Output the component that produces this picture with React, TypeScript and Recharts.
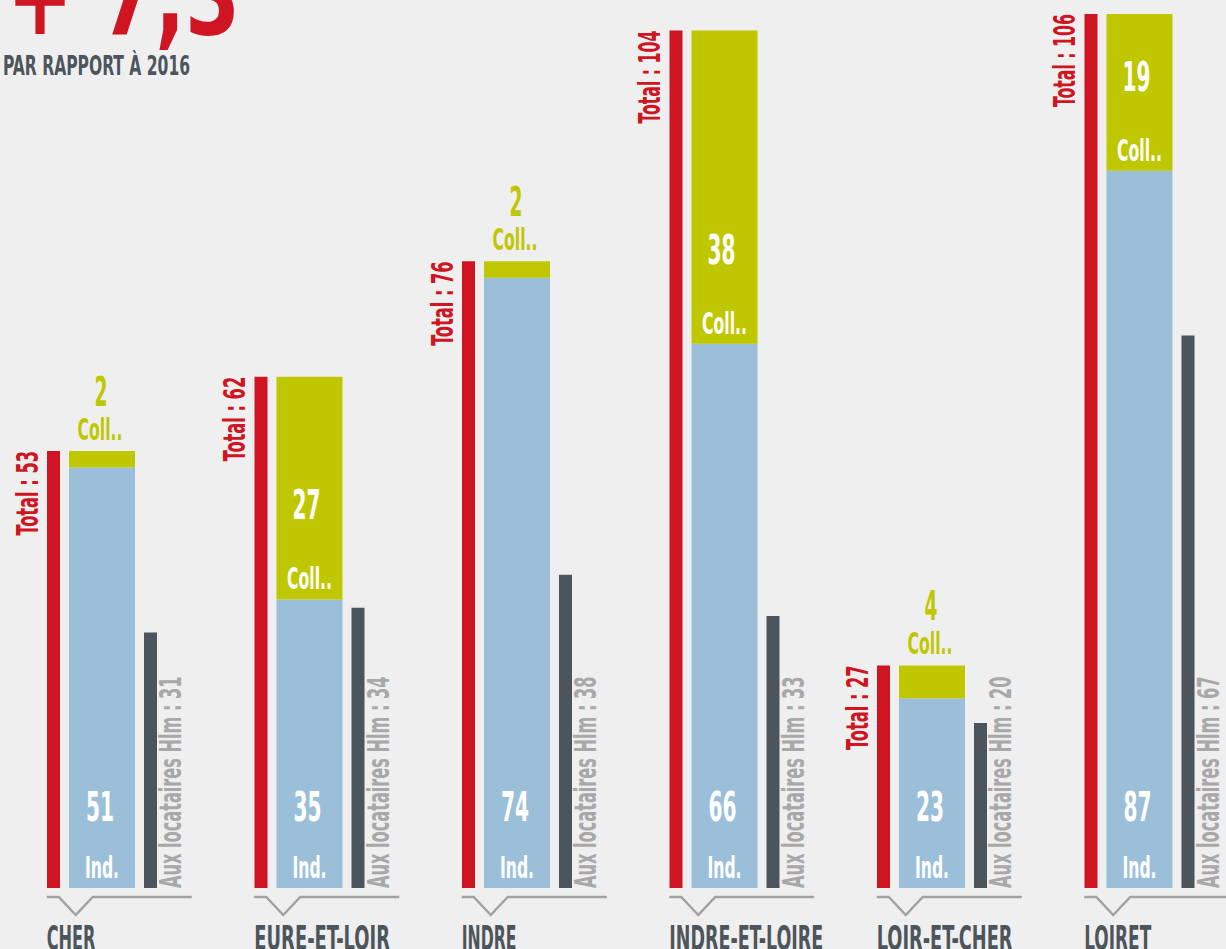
import React from 'react';
import { ComposedChart, Bar, XAxis, YAxis, LabelList } from 'recharts';

const categories = ['CHER', 'EURE-ET-LOIR', 'INDRE', 'INDRE-ET-LOIRE', 'LOIR-ET-CHER', 'LOIRET'];
const totals = [53, 62, 76, 104, 27, 106];
const individuels = [51, 35, 74, 66, 23, 87];
const collectifs = [2, 27, 2, 38, 4, 19];
const locatairesHlm = [31, 34, 38, 33, 20, 67];

const titleValue = '+ 7,3';
const subtitle = 'PAR RAPPORT À 2016';

const data = categories.map((name, i) => ({
  name,
  total: totals[i],
  ind: individuels[i],
  coll: collectifs[i],
  hlm: locatairesHlm[i],
}));

const FONT = "'Liberation Sans Narrow', 'DejaVu Sans Condensed', 'Roboto Condensed', 'Arial Narrow', sans-serif";
const RED = '#cf1522';
const BLUE = '#9bbfd9';
const GREEN = '#bfc700';
const DARK = '#4c545c';
const LIGHT = '#a8a8a8';
const TEXT = '#4d555c';
const BG = '#efefef';
const LINE = '#a2a2a2';

const rect = (p: any) => {
  const vb = p.viewBox || {};
  const x = Number(p.x ?? vb.x);
  const y = Number(p.y ?? vb.y);
  const width = Number(p.width ?? vb.width);
  const height = Number(p.height ?? vb.height);
  return { x, y, width, height };
};

const Squeezed = ({ x, y, len, size, fill, anchor = 'middle', rotate = false, children }: any) => {
  const startX = anchor === 'middle' ? x - len / 2 : x;
  const tr = rotate ? `rotate(-90 ${x} ${y})` : undefined;
  return (
    <text
      x={rotate ? x : startX}
      y={y}
      transform={tr}
      fontFamily={FONT}
      fontWeight="bold"
      fontSize={size}
      fill={fill}
      textLength={len}
      lengthAdjust="spacingAndGlyphs"
    >
      {children}
    </text>
  );
};

const numLen = (s: string) => s.length * 14;

const RedLabel = (p: any) => {
  const { x, y } = rect(p);
  const t = `Total : ${p.value}`;
  const len = t.length * 8.45;
  const bx = x - 9;
  return <Squeezed x={bx} y={y + len} len={len} size={30} fill={RED} anchor="start" rotate>{t}</Squeezed>;
};

const GrayLabel = (p: any) => {
  const { x, y, width, height } = rect(p);
  const t = `Aux locataires Hlm : ${p.value}`;
  const len = t.length * 9.2;
  const bx = x + width + 24;
  return <Squeezed x={bx} y={y + height} len={len} size={31} fill={LIGHT} anchor="start" rotate>{t}</Squeezed>;
};

const BlueLabel = (p: any) => {
  const { x, y, width, height } = rect(p);
  const cx = x + width / 2;
  const bottom = y + height;
  const s = String(p.value);
  return (
    <g>
      <Squeezed x={cx - 2} y={bottom - 67} len={numLen(s)} size={40} fill="#ffffff">{s}</Squeezed>
      <Squeezed x={cx} y={bottom - 10} len={34} size={30} fill="#ffffff">Ind.</Squeezed>
    </g>
  );
};

const GreenLabel = (p: any) => {
  const { x, y, width, height } = rect(p);
  const cx = x + width / 2;
  const s = String(p.value);
  if (Number(p.value) < 10) {
    return (
      <g>
        <Squeezed x={cx - 1} y={y - 45} len={numLen(s) - 1} size={40} fill={GREEN}>{s}</Squeezed>
        <Squeezed x={cx - 2} y={y - 11} len={45} size={31} fill={GREEN}>Coll..</Squeezed>
      </g>
    );
  }
  const bottom = y + height;
  return (
    <g>
      <Squeezed x={cx - 3} y={bottom - 80} len={numLen(s)} size={40} fill="#ffffff">{s}</Squeezed>
      <Squeezed x={cx} y={bottom - 10} len={45} size={31} fill="#ffffff">Coll..</Squeezed>
    </g>
  );
};

const charW = (c: string) => (c === 'I' ? 6 : c === '-' ? 10 : 12.2);

const CatTick = (p: any) => {
  const x0 = Number(p.x) - 55;
  const y = Number(p.y);
  const label = String(p.payload?.value ?? '');
  const len = label.split('').reduce((s, c) => s + charW(c), 0);
  return (
    <g>
      <path
        d={`M${x0},${y + 9} L${x0 + 12},${y + 9} L${x0 + 29},${y + 27} L${x0 + 46},${y + 9} L${x0 + 145},${y + 9}`}
        fill="none"
        stroke={LINE}
        strokeWidth={2.5}
      />
      <Squeezed x={x0} y={y + 62} len={len} size={34} fill={TEXT} anchor="start">{label}</Squeezed>
    </g>
  );
};

export default function App() {
  return (
    <div style={{ position: 'relative', width: 1226, height: 949, overflow: 'hidden', background: BG }}>
      <style>{`html,body{margin:0;padding:0;background:${BG};overflow:hidden}`}</style>
      <div style={{ position: 'absolute', left: -2, top: 0 }}>
        <ComposedChart
          width={1245}
          height={949}
          data={data}
          margin={{ top: 14, right: 0, bottom: 0, left: 0 }}
          barGap={9}
          barCategoryGap={0}
        >
          <XAxis
            dataKey="name"
            axisLine={false}
            tickLine={false}
            tickSize={0}
            tickMargin={0}
            height={61}
            interval={0}
            tick={<CatTick />}
          />
          <YAxis hide domain={[0, 106]} allowDataOverflow />
          <Bar dataKey="total" stackId="r" fill={RED} barSize={13} isAnimationActive={false}>
            <LabelList dataKey="total" content={RedLabel} />
          </Bar>
          <Bar dataKey="ind" stackId="a" fill={BLUE} barSize={66} isAnimationActive={false}>
            <LabelList dataKey="ind" content={BlueLabel} />
          </Bar>
          <Bar dataKey="coll" stackId="a" fill={GREEN} barSize={66} isAnimationActive={false}>
            <LabelList dataKey="coll" content={GreenLabel} />
          </Bar>
          <Bar dataKey="hlm" stackId="g" fill={DARK} barSize={13} isAnimationActive={false}>
            <LabelList dataKey="hlm" content={GrayLabel} />
          </Bar>
        </ComposedChart>
      </div>
      <svg
        width={1226}
        height={100}
        style={{ position: 'absolute', left: 0, top: 0, pointerEvents: 'none' }}
      >
        <Squeezed x={7} y={34} len={233} size={110} fill={RED} anchor="start">{titleValue}</Squeezed>
        <Squeezed x={3} y={75} len={187} size={27} fill={TEXT} anchor="start">{subtitle}</Squeezed>
      </svg>
    </div>
  );
}
